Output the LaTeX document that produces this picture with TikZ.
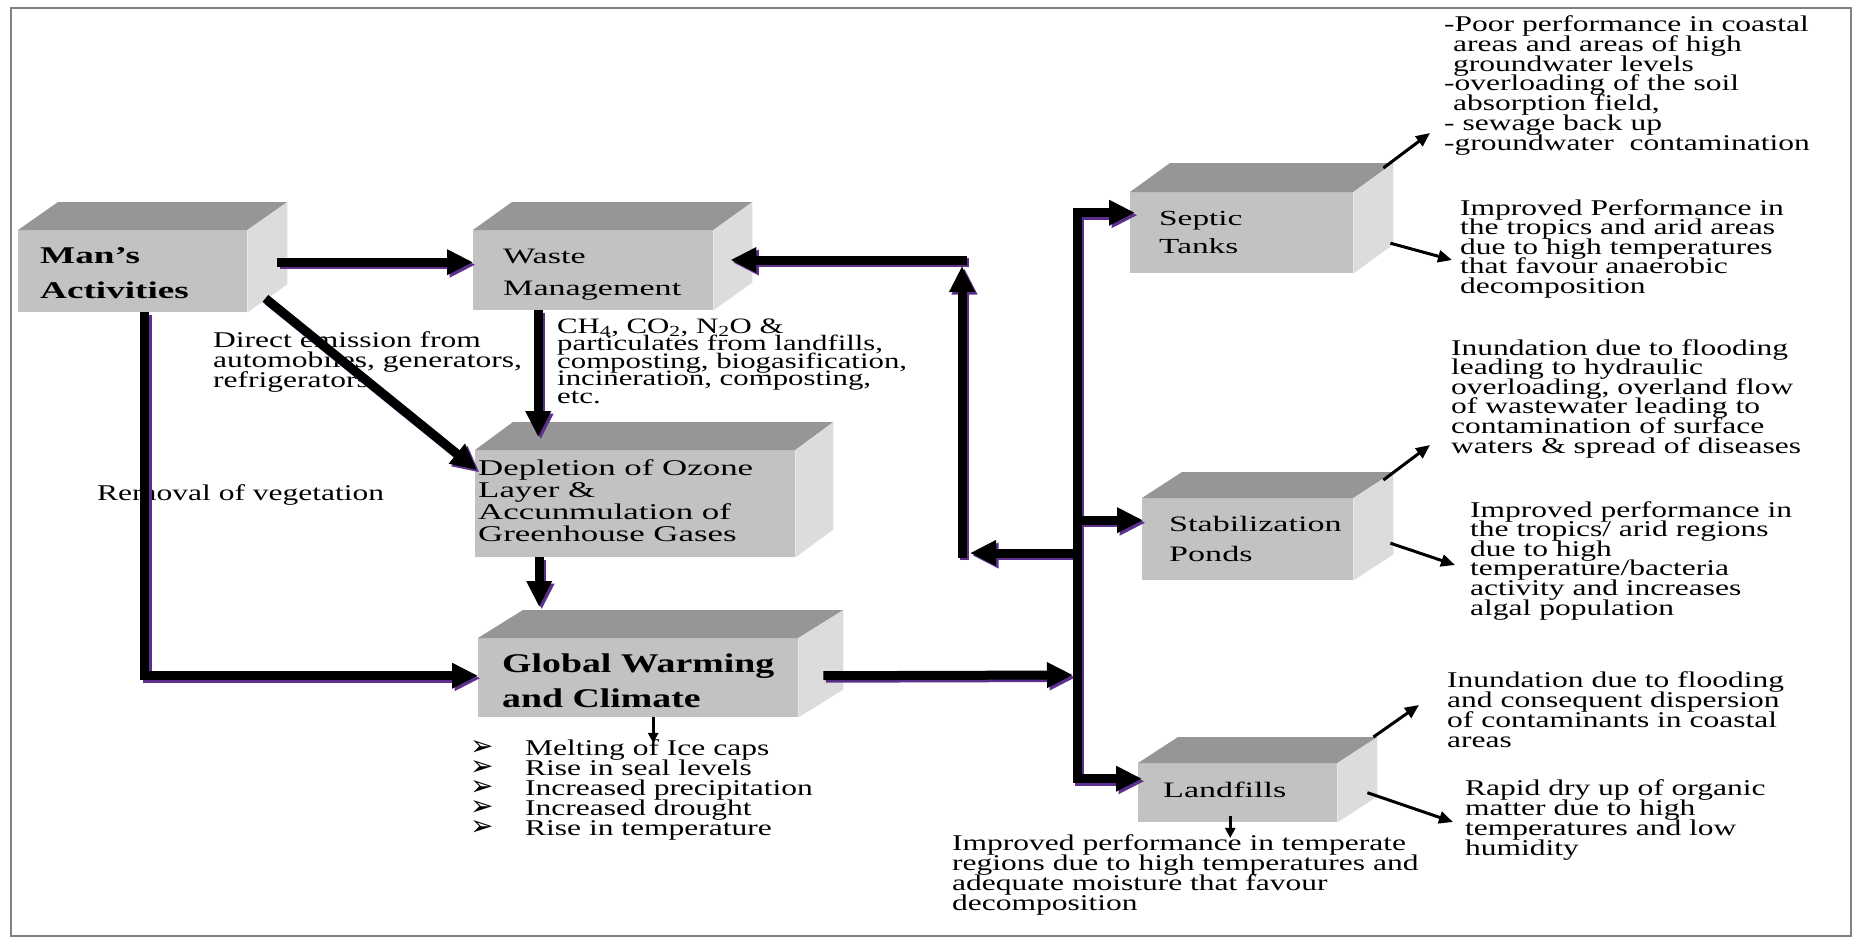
\documentclass[tikz,border=0pt]{standalone}
\usepackage{fontspec}
\setmainfont{Liberation Serif}[FakeStretch=1.4]
\newfontfamily\boxfont{Liberation Serif}[FakeStretch=1.55]
\newfontfamily\symfont{DejaVu Sans}
\usetikzlibrary{arrows.meta,calc}
% keep the tight line spacing fixed, whatever the line contents
\lineskiplimit=-100pt
\lineskip=0pt

\definecolor{frontgray}{RGB}{194,194,194}
\definecolor{topgray}{RGB}{150,150,150}
\definecolor{sidegray}{RGB}{220,220,220}
\definecolor{shadowpurple}{RGB}{92,48,140}
\definecolor{framegray}{RGB}{128,128,128}

\tikzset{
  face/.style={fill=frontgray, draw=none, anchor=north west, inner sep=0pt},
  boxlabel/.style={anchor=west, align=left, inner sep=0pt},
  % notes are placed by the baseline of their last line
  note/.style={anchor=base west, align=left, inner sep=0pt,
    font=\fontsize{22.5}{19.6}\selectfont},
  bigarrow/.style={line width=9pt, draw=bigcolor,
    -{Triangle[length=26pt,width=24pt]}},
  thinarrow/.style={line width=3pt, draw=black,
    -{Triangle[length=14pt,width=12pt]}},
}

% top and right faces of a box whose front face is node #1, depth (#2,#3)
\newcommand\boxsides[3]{%
  \fill[topgray] (#1.north west) -- ++(#2,#3) -- ([shift={(#2,#3)}]#1.north east)
    -- (#1.north east) -- cycle;
  \fill[sidegray] (#1.north east) -- ++(#2,#3) -- ([shift={(#2,#3)}]#1.south east)
    -- (#1.south east) -- cycle;}

\newcommand\arrowbullet{\makebox[55pt][l]{\symfont\fontsize{28}{20}\selectfont ➢}}

% the heavy connectors, drawn once as a purple shadow and once in black
\newcommand\heavyconnectors{%
  \draw[bigarrow] ([xshift=30pt,yshift=9pt]man.east) coordinate (a1) -- (a1 -| waste.west);
  \draw[bigarrow] ([xshift=18pt,yshift=14pt]man.south east) -- ([xshift=2pt,yshift=-20pt]depl.north west);
  \draw[bigarrow] ([xshift=12pt]man.south) |- ([yshift=2pt]glob.west);
  \draw[bigarrow] ([xshift=-55pt]waste.south) coordinate (a2) -- ([yshift=13pt]a2 |- depl.north);
  \draw[bigarrow] ([xshift=-96pt]depl.south) coordinate (a3) -- ([yshift=31pt]a3 |- glob.north);
  \draw[bigarrow] ([xshift=25pt,yshift=2pt]glob.east) -- ([xshift=-4pt]junction);
  \draw[bigarrow] (junction) |- ([xshift=5pt,yshift=20pt]septic.west);
  \draw[bigarrow] (junction) |- ([xshift=1pt,yshift=19pt]stab.west);
  \draw[bigarrow] (junction) |- ([xshift=4pt,yshift=14pt]land.west);
  \draw[bigarrow] (fbA) -- ([xshift=8pt]fbB);
  \draw[bigarrow] ([yshift=-4.5pt]fbB) -- ([yshift=-6pt]fbC);
  \draw[bigarrow] ([xshift=4.5pt]fbC) -- ([xshift=17pt]fbC -| waste.east);
}

\begin{document}
\begin{tikzpicture}[x=1pt,y=-1pt]
\useasboundingbox (0,0) rectangle (1858,942);
\fill[white] (0,0) rectangle (1858,942);
\draw[framegray, line width=2.5pt] (11,8) rectangle (1851,936);

% front faces
\node[face, minimum width=229pt, minimum height=82pt]  (man)    at (18,230) {};
\node[face, minimum width=240pt, minimum height=80pt]  (waste)  at (473,230) {};
\node[face, minimum width=320pt, minimum height=107pt] (depl)   at (475,450) {};
\node[face, minimum width=320pt, minimum height=79pt]  (glob)   at (478,638) {};
\node[face, minimum width=223pt, minimum height=81pt]  (septic) at (1130,192) {};
\node[face, minimum width=211pt, minimum height=82pt]  (stab)   at (1142,498) {};
\node[face, minimum width=199pt, minimum height=59pt]  (land)   at (1138,763) {};

% top and side faces
\boxsides{man}{40}{-28}
\boxsides{waste}{39}{-28}
\boxsides{depl}{38}{-28}
\boxsides{glob}{45}{-28}
\boxsides{septic}{40}{-29}
\boxsides{stab}{40}{-26}
\boxsides{land}{40}{-26}

% box labels
\node[boxlabel, font={\boxfont\bfseries\fontsize{24}{35}\selectfont}] (manL) at ([xshift=22pt,yshift=-2pt]man.west) {Man’s\\Activities};
\node[boxlabel, font={\boxfont\fontsize{22}{32}\selectfont}] (wasteL) at ([xshift=30pt,yshift=-4pt]waste.west) {Waste\\Management};
\node[boxlabel, font={\boxfont\fontsize{22.5}{21.7}\selectfont}] (deplL) at ([xshift=3pt,yshift=3pt]depl.west) {Depletion of Ozone\\Layer \&\\Accunmulation of\\Greenhouse Gases};
\node[boxlabel, font={\bfseries\fontsize{27}{35}\selectfont}] (globL) at ([xshift=24pt,yshift=-3pt]glob.west) {Global Warming\\and Climate};
\node[boxlabel, font={\boxfont\fontsize{21.5}{28}\selectfont}] (septicL) at ([xshift=29pt]septic.west) {Septic\\Tanks};
\node[boxlabel, font={\boxfont\fontsize{22}{30}\selectfont}] (stabL) at ([xshift=27pt]stab.west) {Stabilization\\Ponds};
\node[boxlabel, font={\boxfont\fontsize{22}{26}\selectfont}] (landL) at ([xshift=25pt,yshift=3pt]land.west) {Landfills};

% annotations (positions give the baseline of the last line)
\node[note] (direct) at (213,387) {Direct emission from\\automobiles, generators,\\refrigerators};
\node[note] (removal) at (97,500) {Removal of vegetation};
\node[note, font=\fontsize{22}{17.5}\selectfont] (gases) at (557,403)
  {CH\textsubscript{4}, CO\textsubscript{2}, N\textsubscript{2}O \&\\particulates from landfills,\\composting, biogasification,\\incineration, composting,\\etc.};
\node[note, font=\fontsize{22.5}{20}\selectfont] (effects) at (470,835)
  {\arrowbullet Melting of Ice caps\\\arrowbullet Rise in seal levels\\\arrowbullet Increased precipitation\\\arrowbullet Increased drought\\\arrowbullet Rise in temperature};
\node[note, font=\fontsize{22.5}{19.7}\selectfont] (sepUp) at (1444,150)
  {-Poor performance in coastal\\\hspace*{9pt}areas and areas of high\\\hspace*{9pt}groundwater levels\\-overloading of the soil\\\hspace*{9pt}absorption field,\\- sewage back up\\-groundwater\ \ contamination};
\node[note, font=\fontsize{22.5}{19.5}\selectfont] (sepLo) at (1460,293)
  {Improved Performance in\\the tropics and arid areas\\due to high temperatures\\that favour anaerobic\\decomposition};
\node[note] (stabUp) at (1451,453)
  {Inundation due to flooding\\leading to hydraulic\\overloading, overland flow\\of wastewater leading to\\contamination of surface\\waters \& spread of diseases};
\node[note] (stabLo) at (1470,615)
  {Improved performance in\\the tropics/ arid regions\\due to high\\temperature/bacteria\\activity and increases\\algal population};
\node[note, font=\fontsize{22.5}{20}\selectfont] (landUp) at (1447,747)
  {Inundation due to flooding\\and consequent dispersion\\of contaminants in coastal\\areas};
\node[note, font=\fontsize{22.5}{20}\selectfont] (landLo) at (1465,855)
  {Rapid dry up of organic\\matter due to high\\temperatures and low\\humidity};
\node[note, font=\fontsize{22.5}{20}\selectfont] (landBot) at (952,910)
  {Improved performance in temperate\\regions due to high temperatures and\\adequate moisture that favour\\decomposition};

% routing points of the heavy connectors
\coordinate (junction) at (1077,675);
\coordinate (fbA) at (1077,553);
\coordinate (fbB) at (962,553);
\coordinate (fbC) at (962,260);

\colorlet{bigcolor}{shadowpurple}
\begin{scope}[transform canvas={shift={(2.5pt,-2.5pt)}}]
  \heavyconnectors
\end{scope}
\colorlet{bigcolor}{black}
\heavyconnectors

% thin arrows to the notes
\coordinate (tS1) at (1430,133);
\coordinate (tS2) at (1452,260);
\coordinate (tP1) at (1430,445);
\coordinate (tP2) at (1455,565);
\coordinate (tL1) at (1419,705);
\coordinate (tL2) at (1453,822);
\draw[thinarrow] ([xshift=30pt,yshift=24pt]septic.north east) -- (tS1);
\draw[thinarrow] ([xshift=37pt,yshift=-10.5pt]septic.east) -- (tS2);
\draw[thinarrow] ([xshift=30pt,yshift=18pt]stab.north east) -- (tP1);
\draw[thinarrow] ([xshift=37pt,yshift=-4pt]stab.east) -- (tP2);
\draw[thinarrow] ([xshift=36pt,yshift=26pt]land.north east) -- (tL1);
\draw[thinarrow] ([xshift=30pt]land.east) -- (tL2);
\draw[thinarrow, -{Triangle[length=10pt,width=10pt]}] ([xshift=-7.5pt,yshift=6pt]land.south) coordinate (l1) -- ([yshift=-4pt]l1 |- landBot.north);
\draw[thinarrow, -{Triangle[length=10pt,width=10pt]}] ([xshift=15pt]glob.south) coordinate (g1) -- ([yshift=-4pt]g1 |- effects.north);
\end{tikzpicture}
\end{document}
